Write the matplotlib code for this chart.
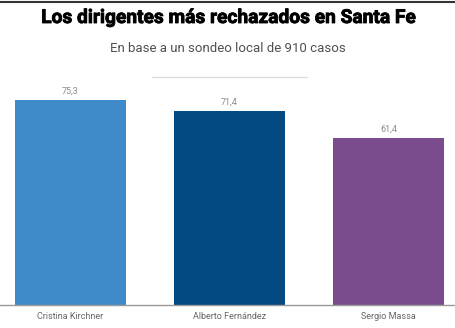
import matplotlib.pyplot as plt
import matplotlib.patheffects as pe
from matplotlib.lines import Line2D

# datos del sondeo
dirigentes = ["Cristina Kirchner", "Alberto Fernández", "Sergio Massa"]
rechazo = [75.3, 71.4, 61.4]
colores = ["#3f8bc9", "#034a83", "#7a4c8e"]

fig = plt.figure(figsize=(4.56, 3.28), dpi=100)
ax = fig.add_axes([0, 23 / 328, 1, 217.8 / 328])

x = range(len(dirigentes))
bars = ax.bar(x, rechazo, width=0.698, color=colores, zorder=2)
for b, v in zip(bars, rechazo):
    ax.text(b.get_x() + b.get_width() / 2, v + 1.6, f"{v:.1f}".replace(".", ","),
            ha="center", va="bottom", fontsize=6.5, color="#8a8a8a", family="Roboto")

ax.set_xlim(-0.443, 2.425)
ax.set_ylim(0, 80)
ax.set_xticks(list(x))
ax.set_xticklabels(dirigentes, fontsize=6.5, color="#666666", family="Roboto")
ax.tick_params(axis="x", length=0, pad=5)
ax.set_yticks([])
for s in ["top", "right", "left"]:
    ax.spines[s].set_visible(False)
ax.spines["bottom"].set_color("#999999")
ax.spines["bottom"].set_linewidth(1)

# título, bajada y líneas decorativas
fig.text(0.5, 1 - 18 / 328, "Los dirigentes más rechazados en Santa Fe",
         ha="center", va="center", fontsize=13.8, fontweight="bold",
         family="Roboto", color="#000000",
         path_effects=[pe.withStroke(linewidth=0.6, foreground="#000000")])
fig.text(0.5, 1 - 48 / 328, "En base a un sondeo local de 910 casos",
         ha="center", va="center", fontsize=9.5,
         color="#505050", family="Roboto")
fig.add_artist(Line2D([0, 1], [1 - 1.5 / 328, 1 - 1.5 / 328], color="#333333", lw=1.5,
                      transform=fig.transFigure))
fig.add_artist(Line2D([152 / 456, 307 / 456], [1 - 77 / 328, 1 - 77 / 328],
                      color="#dddddd", lw=1, transform=fig.transFigure))

fig.savefig("out.png", dpi=100)
